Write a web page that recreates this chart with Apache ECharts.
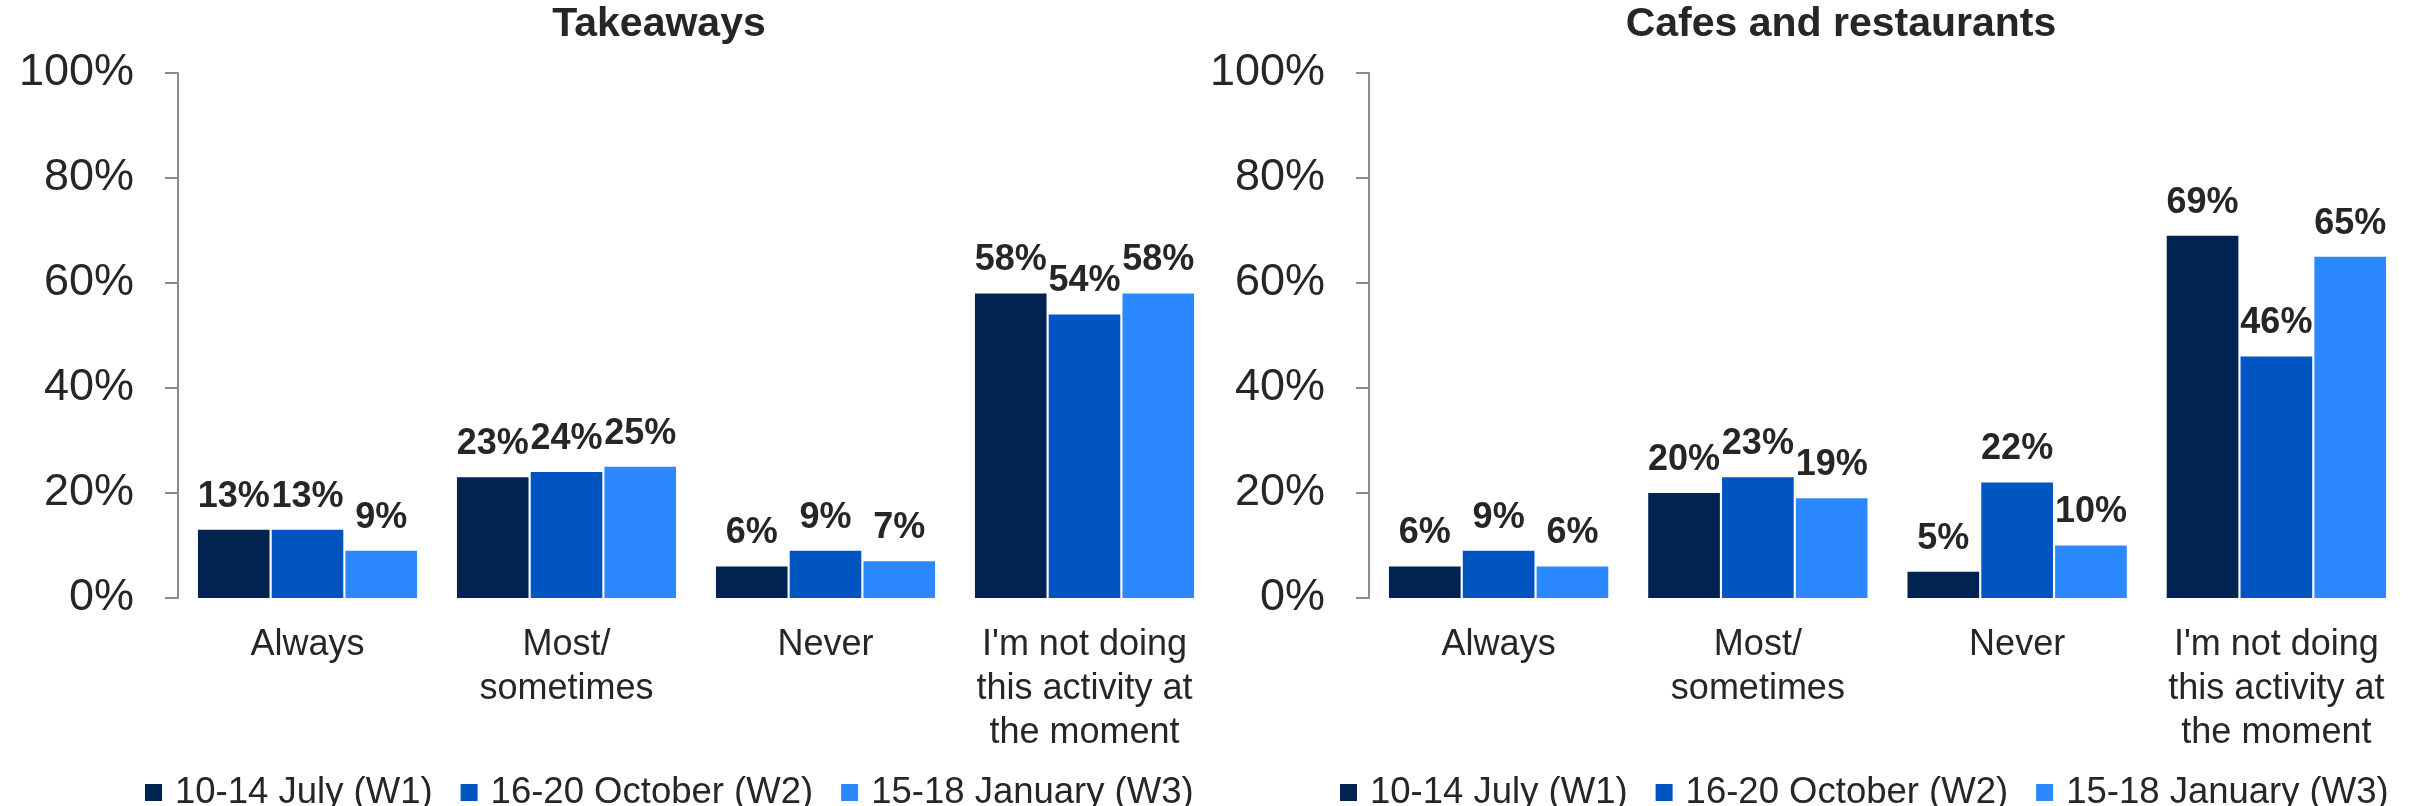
<!DOCTYPE html>
<html>
<head>
<meta charset="utf-8">
<script src="https://cdn.jsdelivr.net/npm/echarts@6/dist/echarts.min.js"></script>
<style>
html,body{margin:0;padding:0;background:#fff;}
#chart{width:2418px;height:806px;}
</style>
</head>
<body>
<div id="chart"></div>
<script>
const categories = ["Always", "Most/\nsometimes", "Never", "I'm not doing\nthis activity at\nthe moment"];
const seriesNames = ["10-14 July (W1)", "16-20 October (W2)", "15-18 January (W3)"];
const colors = ["#00244F", "#0055C0", "#2B88FF"];
const takeawaysW1 = [13, 23, 6, 58];
const takeawaysW2 = [13, 24, 9, 54];
const takeawaysW3 = [9, 25, 7, 58];
const cafesW1 = [6, 20, 5, 69];
const cafesW2 = [9, 23, 22, 46];
const cafesW3 = [6, 19, 10, 65];
const yTicks = [0, 20, 40, 60, 80, 100];

const FONT = '"Liberation Sans", Arial, sans-serif';
const TXT = '#262626';

const grids = [
  {left: 178, top: 73, width: 1036, height: 525},
  {left: 1369, top: 73, width: 1037, height: 525}
];

function xAxisFor(i) {
  return {
    type: 'category', gridIndex: i, data: categories,
    axisLine: {show: false}, axisTick: {show: false},
    axisLabel: {fontFamily: FONT, fontSize: 36, lineHeight: 44, color: TXT, margin: 25, interval: 0}
  };
}
function yAxisFor(i) {
  return {
    type: 'value', gridIndex: i, min: yTicks[0], max: yTicks[yTicks.length - 1], interval: 20,
    axisLine: {show: true, lineStyle: {color: '#8c8c8c', width: 2}},
    axisTick: {show: true, length: 13, lineStyle: {color: '#8c8c8c', width: 2}},
    splitLine: {show: false},
    axisLabel: {fontFamily: FONT, fontSize: 45, color: TXT, margin: 44, formatter: v => v + '%'}
  };
}

const data = [[takeawaysW1, takeawaysW2, takeawaysW3], [cafesW1, cafesW2, cafesW3]];
const series = [];
for (let g = 0; g < 2; g++) {
  for (let s = 0; s < 3; s++) {
    series.push({
      type: 'bar', name: seriesNames[s], xAxisIndex: g, yAxisIndex: g,
      data: data[g][s],
      barCategoryGap: '15.4%', barGap: '3%',
      itemStyle: {color: colors[s]},
      label: {show: true, position: 'top', distance: 15, fontFamily: FONT, fontSize: 36, fontWeight: 'bold', color: TXT, formatter: p => p.value + '%'}
    });
  }
}

function legendAt(left) {
  return {
    left: left, top: 769, orient: 'horizontal', icon: 'rect',
    itemWidth: 17, itemHeight: 17, itemGap: 28,
    data: seriesNames,
    textStyle: {fontFamily: FONT, fontSize: 36.5, color: TXT, padding: [0, 0, 0, 8]}
  };
}

const chart = echarts.init(document.getElementById('chart'), null, {renderer: 'canvas'});
chart.setOption({
  animation: false,
  backgroundColor: '#fff',
  color: colors,
  title: [
    {text: 'Takeaways', left: 659, top: 4, padding: 0, textAlign: 'center', textStyle: {fontFamily: FONT, fontSize: 41, fontWeight: 'bold', color: TXT}},
    {text: 'Cafes and restaurants', left: 1841, top: 4, padding: 0, textAlign: 'center', textStyle: {fontFamily: FONT, fontSize: 41, fontWeight: 'bold', color: TXT}}
  ],
  legend: [legendAt(140), legendAt(1335)],
  grid: grids,
  xAxis: [xAxisFor(0), xAxisFor(1)],
  yAxis: [yAxisFor(0), yAxisFor(1)],
  series: series
});
</script>
</body>
</html>
